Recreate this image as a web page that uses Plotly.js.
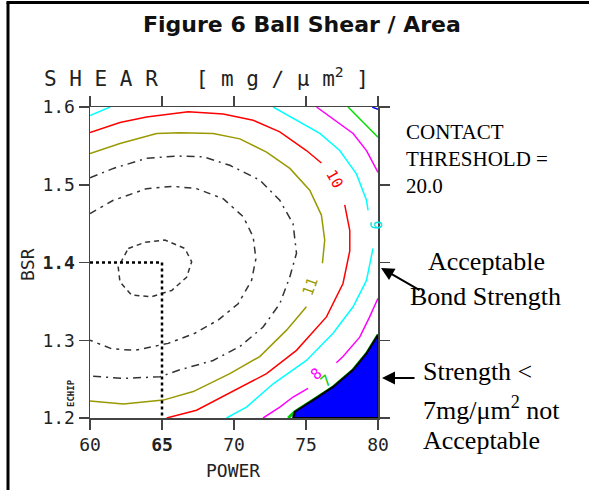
<!DOCTYPE html>
<html>
<head>
<meta charset="utf-8">
<script src="https://cdn.plot.ly/plotly-3.0.1.min.js"></script>
<style>html,body{margin:0;padding:0;background:#fff;}#chart{width:589px;height:490px;}</style>
</head>
<body>
<div id="chart"></div>
<script>
// ---- data ----
const powerTicks = [60, 65, 70, 75, 80];
const powerTickText = ['60', '<b>65</b>', '70', '75', '80'];
const bsrTicks = [1.2, 1.3, 1.4, 1.5, 1.6];
const bsrTickText = ['1.2', '1.3', '<b>1.4</b>', '1.5', '1.6'];

// contour SHEAR = 12.5 (inner, dashed)
const shear12_5_power = [62.66, 63.82, 65.20, 66.59, 67.06, 66.71, 65.67, 64.28, 62.89, 62.08, 61.96, 62.66];
const shear12_5_bsr   = [1.418, 1.426, 1.429, 1.418, 1.401, 1.381, 1.364, 1.356, 1.358, 1.375, 1.394, 1.418];
// contour SHEAR = 12 (dashed)
const shear12_power = [60, 61.62, 63.93, 65.78, 67.40, 69.25, 70.64, 71.33, 71.52, 71.22, 70.29, 68.90, 67.28, 65.43, 63.12, 61.51, 60];
const shear12_bsr   = [1.463, 1.480, 1.495, 1.498, 1.495, 1.482, 1.459, 1.433, 1.405, 1.377, 1.347, 1.326, 1.309, 1.296, 1.287, 1.289, 1.300];
// contour SHEAR = 11.5 (dash-dot)
const shear11_5_power = [60, 61.62, 63.93, 66.01, 67.86, 69.71, 71.79, 73.18, 74.10, 74.34, 73.87, 73.18, 72.02, 70.41, 68.55, 66.24, 64.86, 62.31, 60];
const shear11_5_bsr   = [1.509, 1.521, 1.534, 1.537, 1.536, 1.525, 1.506, 1.480, 1.450, 1.412, 1.381, 1.347, 1.317, 1.292, 1.274, 1.262, 1.253, 1.251, 1.254];
// contour 11
const shear11_power = [60, 62.08, 64.63, 66.24, 68.55, 70.41, 72.26, 73.88, 75.26, 76.07, 76.30, 76.14, null, 75.03, 73.65, 71.79, 69.71, 67.17, 65.09, 62.31, 60];
const shear11_bsr   = [1.540, 1.553, 1.566, 1.567, 1.566, 1.559, 1.542, 1.521, 1.493, 1.461, 1.429, 1.399, null, 1.343, 1.313, 1.279, 1.257, 1.234, 1.223, 1.218, 1.222];
// contour 10
const shear10_power = [60, 62.08, 63.93, 66.82, 69.25, 71.33, 73.18, 75.03, 76.07, null, 77.69, 78.04, 78.04, 77.57, 76.42, 74.34, 72.26, 69.71, 67.40, 65.32];
const shear10_bsr   = [1.567, 1.580, 1.587, 1.594, 1.591, 1.583, 1.568, 1.544, 1.528, null, 1.474, 1.441, 1.415, 1.373, 1.330, 1.287, 1.257, 1.232, 1.210, 1.200];
// contour 9
const shear9_corner_power = [60, 61.4];
const shear9_corner_bsr   = [1.589, 1.600];
const shear9_power = [72.72, 74.34, 75.96, 77.34, 78.50, 79.20, 79.31, null, 79.65, 79.20, 78.27, 76.88, 75.03, 72.72, 70.87, 69.48];
const shear9_bsr   = [1.600, 1.583, 1.566, 1.544, 1.514, 1.480, 1.467, null, 1.418, 1.377, 1.343, 1.309, 1.274, 1.244, 1.214, 1.200];
// contour 8
const shear8_top_power = [75.73, 76.88, 78.27, 79.20, 80.0];
const shear8_top_bsr   = [1.600, 1.585, 1.566, 1.544, 1.516];
const shear8_low_power = [80.0, 79.42, 78.73, 77.57, 77.11, null, 75.14, 74.10, 73.18, 72.02];
const shear8_low_bsr   = [1.354, 1.330, 1.304, 1.279, 1.271, null, 1.238, 1.227, 1.214, 1.200];
// contour 7
const shear7_top_power = [77.92, 78.96, 80.0];
const shear7_top_bsr   = [1.600, 1.581, 1.561];
const shear7_low_power = [73.76, 74.22, 75.49, 76.88, 78.27, 79.20, 80.0];
const shear7_low_bsr   = [1.200, 1.208, 1.223, 1.240, 1.262, 1.283, 1.307];
// contour 6 (corner)
const shear6_power = [79.6, 80.0];
const shear6_bsr   = [1.600, 1.597];
// region SHEAR < 7 (not acceptable)
const below7_power = [74.1, 74.22, 75.49, 76.88, 78.27, 79.20, 80.0, 80.0, 74.1];
const below7_bsr   = [1.200, 1.208, 1.223, 1.240, 1.262, 1.283, 1.307, 1.200, 1.200];
// operating point reference
const refH_power = [60, 65], refH_bsr = [1.4, 1.4];
const refV_power = [65, 65], refV_bsr = [1.4, 1.2];
// contour labels
const labelText  = ['10', '11', '9', '8', '7'];
const labelPower = [77.0, 75.26, 79.77, 75.73, 76.42];
const labelBsr   = [1.508, 1.369, 1.448, 1.256, 1.247];
const labelColor = ['#ff0000', '#999900', '#00e5e5', '#ff00ff', '#00cc00'];
const labelAngle = [61, -70, 90, -40, -40];

// ---- layout helpers (pixel -> paper) ----
const L = 90, R = 378, T = 107, B = 418;
const px = v => (v - L) / (R - L);
const py = v => (B - v) / (B - T);

const mono = 'DejaVu Sans Mono, monospace';
const serif = 'Liberation Serif, Times New Roman, serif';

function line(xs, ys, color, width, dash) {
  return {x: xs, y: ys, type: 'scatter', mode: 'lines', hoverinfo: 'skip', showlegend: false,
          line: {color: color, width: width, dash: dash || 'solid'}};
}

const traces = [
  line(shear7_low_power, shear7_low_bsr, '#00cc00', 3),
  {x: below7_power, y: below7_bsr, type: 'scatter', mode: 'lines', fill: 'toself', fillcolor: '#0000ff',
   line: {color: '#000', width: 2}, hoverinfo: 'skip', showlegend: false},
  line(shear12_5_power, shear12_5_bsr, '#333', 1.5, '5px,4px'),
  line(shear12_power, shear12_bsr, '#333', 1.5, '7px,5px,3px,5px'),
  line(shear11_5_power, shear11_5_bsr, '#333', 1.5, '8px,5px,2px,5px'),
  line(shear11_power, shear11_bsr, '#999900', 1.5),
  line(shear10_power, shear10_bsr, '#ff0000', 1.5),
  line(shear9_corner_power, shear9_corner_bsr, '#00ffff', 1.5),
  line(shear9_power, shear9_bsr, '#00ffff', 1.5),
  line(shear8_top_power, shear8_top_bsr, '#ff00ff', 1.5),
  line(shear8_low_power, shear8_low_bsr, '#ff00ff', 1.5),
  line(shear7_top_power, shear7_top_bsr, '#00dd00', 1.5),
  line(shear6_power, shear6_bsr, '#0000ff', 1.5),
  line(refH_power, refH_bsr, '#000', 2.5, 'dot'),
  line(refV_power, refV_bsr, '#000', 2.5, 'dot')
];

const ann = [];
for (let i = 0; i < labelText.length; i++) {
  ann.push({x: labelPower[i], y: labelBsr[i], xref: 'x', yref: 'y', text: labelText[i], showarrow: false,
            textangle: labelAngle[i], font: {family: mono, size: 15, color: labelColor[i]}});
}
function txt(t, x, y, font, xanchor, angle) {
  ann.push({x: px(x), y: py(y), xref: 'paper', yref: 'paper', text: t, showarrow: false,
            xanchor: xanchor || 'center', yanchor: 'middle', textangle: angle || 0, font: font, borderpad: 0});
}
txt('<b>Figure 6 Ball Shear / Area</b>', 302, 24, {family: 'DejaVu Sans, sans-serif', size: 22, color: '#111'});
txt('S H E A R   [ m g ∕ μ m<sup>2</sup> ]', 43, 77, {family: mono, size: 21, color: '#222'}, 'left');
txt('BSR', 27, 265, {family: mono, size: 18, color: '#222'}, 'center', -90);
txt('POWER', 232.5, 470, {family: mono, size: 18, color: '#222'});
txt('<b>ECHIP</b>', 71, 393, {family: mono, size: 9, color: '#222'}, 'center', -90);
const sf = {family: serif, size: 21, color: '#000'};
txt('CONTACT', 405, 132, sf, 'left');
txt('THRESHOLD =', 405, 159, sf, 'left');
txt('20.0', 405, 186, sf, 'left');
const sf2 = {family: serif, size: 26, color: '#000'};
txt('Acceptable', 486.5, 261, sf2);
txt('Bond Strength', 485.5, 296, sf2);
txt('Strength &lt;', 421.7, 371, sf2, 'left');
txt('7mg/μm<sup>2</sup> not', 421.7, 408, sf2, 'left');
txt('Acceptable', 421.7, 440, sf2, 'left');
// arrows
ann.push({x: px(381), y: py(268), xref: 'paper', yref: 'paper', ax: 40, ay: 23, text: '', showarrow: true,
          arrowhead: 2, arrowsize: 1.3, arrowwidth: 2, arrowcolor: '#000'});
ann.push({x: px(382), y: py(378), xref: 'paper', yref: 'paper', ax: 34, ay: 0, text: '', showarrow: true,
          arrowhead: 2, arrowsize: 1.3, arrowwidth: 2, arrowcolor: '#000'});

const shapes = [
  {type: 'line', xref: 'paper', yref: 'paper', x0: px(8), x1: px(8), y0: py(495), y1: py(2.5), line: {color: '#000', width: 3}},
  {type: 'line', xref: 'paper', yref: 'paper', x0: px(6.5), x1: px(595), y0: py(2.5), y1: py(2.5), line: {color: '#000', width: 3}}
];

const axisCommon = {showgrid: false, zeroline: false, showline: true, linecolor: '#444', linewidth: 1.5,
  ticks: 'outside', ticklen: 10, tickwidth: 1.5, tickcolor: '#444', mirror: 'ticks',
  tickfont: {family: mono, size: 18, color: '#222'}, fixedrange: true};

const layout = {
  width: 589, height: 490, margin: {l: L, r: 589 - R, t: T, b: 490 - B},
  paper_bgcolor: '#fff', plot_bgcolor: '#fff', showlegend: false,
  xaxis: Object.assign({}, axisCommon, {range: [60, 80], tickvals: powerTicks, ticktext: powerTickText}),
  yaxis: Object.assign({}, axisCommon, {range: [1.2, 1.6], tickvals: bsrTicks, ticktext: bsrTickText}),
  annotations: ann, shapes: shapes
};

Plotly.newPlot('chart', traces, layout, {staticPlot: true, displayModeBar: false});
</script>
</body>
</html>
